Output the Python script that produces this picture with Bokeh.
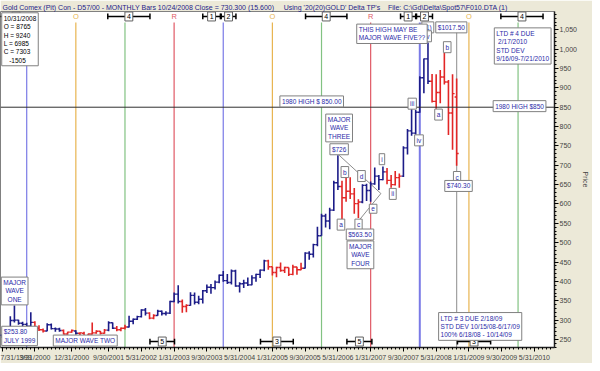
from bokeh.plotting import figure
from bokeh.models import Label, FixedTicker, SingleIntervalTicker, NumeralTickFormatter, Span
from bokeh.embed import file_html
from bokeh.resources import INLINE

# ---------------- data ----------------
first_month = "1999-07"
opens = [261.0, 255.6, 254.8, 299.0, 300.0, 292.0,
         289, 284, 294, 279, 275, 272, 288, 278, 277, 273, 264, 269,
         272, 266, 266, 258, 264, 267, 271, 266, 274, 293, 279, 275,
         279, 282, 297, 302, 309, 326, 318, 305, 312, 323, 317, 318,
         348, 367, 348, 335, 338, 364, 346, 354, 376, 385, 384, 398,
         416, 402, 397, 427, 388, 394, 396, 391, 409, 418, 429, 453,
         438, 423, 436, 428, 436, 418, 437, 430, 434, 473, 470, 495,
         518, 569, 556, 584, 655, 645, 616, 633, 626, 601, 605, 648,
         635, 652, 672, 663, 683, 661, 650, 668, 672, 745, 789, 783,
         837, 926, 975, 917, 865, 888, 928, 915, 835, 876.5]
highs = [262.5, 259.5, 310.0, 338.0, 301.0, 296.0,
         293, 320, 297, 287, 278, 292, 291, 281, 280, 276, 270, 276,
         274, 268, 270, 265, 294, 274, 272, 277, 297, 294, 285, 281,
         288, 311, 304, 311, 328, 331, 320, 315, 327, 325, 323, 350,
         371, 390, 353, 341, 372, 371, 363, 378, 392, 393, 402, 418,
         427, 419, 431, 430, 398, 404, 410, 416, 420, 431, 456, 456,
         438, 438, 449, 438, 436, 443, 438, 448, 475, 478, 497, 541,
         575, 575, 590, 660, 726, 660, 678, 669, 641, 612, 651, 652,
         658, 694, 675, 697, 693, 675, 685, 679, 749, 794, 849, 843,
         930, 976, 1017.5, 936, 935, 946, 990, 920, 935, 924]
lows = [253.8, 252.0, 253.5, 294.0, 288.0, 280.0,
        280, 283, 276, 272, 268, 271, 276, 270, 270, 263, 262, 267,
        263, 255, 255, 255, 263, 265, 263, 265, 271, 277, 271, 271,
        276, 281, 289, 300, 307, 312, 302, 302, 311, 312, 312, 316,
        346, 343, 319, 320, 337, 340, 341, 343, 370, 368, 379, 395,
        399, 393, 392, 386, 371, 383, 388, 390, 399, 409, 426, 430,
        415, 411, 425, 422, 414, 416, 417, 429, 433, 456, 462, 491,
        518, 539, 535, 582, 636, 556, 606, 613, 575, 563.5, 602, 608,
        606, 650, 636, 661, 651, 642, 648, 642, 670, 728, 776, 779,
        836, 886, 910, 862, 846, 860, 909, 778, 740.3, 698.5]
closes = [255.6, 254.8, 299.0, 300.0, 292.0, 289.0,
          284, 294, 278, 275, 272, 288, 278, 277, 273, 264, 269, 273,
          266, 267, 258, 264, 267, 271, 266, 274, 293, 279, 275, 279,
          282, 297, 302, 309, 326, 318, 305, 312, 323, 317, 318, 348,
          367, 348, 335, 338, 364, 346, 354, 376, 385, 384, 398, 416,
          402, 397, 427, 388, 394, 396, 391, 409, 418, 429, 453, 438,
          423, 436, 428, 436, 418, 437, 430, 434, 473, 470, 495, 518,
          569, 556, 584, 655, 645, 616, 633, 626, 601, 605, 648, 635,
          652, 672, 663, 683, 661, 650, 668, 672, 745, 789, 783, 837,
          926, 975, 917, 865, 888, 928, 915, 835, 885, 730.3]
trend = ("UUUUUU"
         "UUDDDUUUUDDD"
         "UDDDDDDDUUDD"
         "DUUUUUDDUUUU"
         "UUDDUUUUUUUU"
         "UUUUUUUUUUUD"
         "DDDDDDDDUUUU"
         "UUUUUDDDDDUU"
         "UUUUDDDDUUUU"
         "UUUDDDDDDD")

tick_dates = ["7/31/1999", "3/31/2000", "12/31/2000", "9/30/2001", "5/31/2002",
              "1/31/2003", "9/30/2003", "5/31/2004", "1/31/2005", "9/30/2005",
              "5/31/2006", "1/31/2007", "9/30/2007", "5/31/2008", "1/31/2009",
              "9/30/2009", "5/31/2010"]

cycle_dates = ["2000-01", "2001-01", "2002-01", "2003-01", "2004-01", "2005-01",
               "2006-01", "2007-01", "2008-01", "2009-01", "2010-01"]
cycle_kind = ["blue", "orange", "green", "red", "blue", "orange", "green", "red",
              "blue", "orange", "green"]
current_bar = "2008-10"
high_1980 = 850.0

# ---------------- helpers ----------------
def month_index(s):
    y, m = s.split("-")
    return (int(y) - 1999) * 12 + int(m) - 1

def date_index(s):
    mo, d, y = s.split("/")
    return (int(y) - 1999) * 12 + int(mo) - 1

m0 = month_index(first_month)
xs = [m0 + i for i in range(len(opens))]

FONT = "Liberation Sans"
TXT = "#2a2aa8"
BLUE = "#1c1c88"
RED = "#e22626"
LINE_COL = {"blue": "#7a7ae6", "orange": "#e8b450", "green": "#82c282", "red": "#e05a66"}

p = figure(width=592, height=363, x_range=(5.6, 140.9), y_range=(229.2, 1097.3),
           y_axis_location="right", output_backend="svg", toolbar_location=None,
           min_border_left=0, min_border_right=0, min_border_top=0, min_border_bottom=0)
p.background_fill_color = "white"
p.border_fill_color = "#ece9d8"
p.outline_line_color = "#808080"
p.xgrid.visible = False
p.ygrid.visible = False

p.title.text = ("Gold Comex (Pit) Con - D57/00  - MONTHLY Bars  10/24/2008 Close = 730.300 (15.600)"
                + "\u00a0" * 5 + "Using '20(20)GOLD' Delta TP's" + "\u00a0" * 4
                + "File: C:\\Gd\\Delta\\Spot57\\F010.DTA (1)")
p.title.text_font = FONT
p.title.text_font_size = "7px"
p.title.text_font_style = "normal"
p.title.text_color = "#1c1c88"
p.title.standoff = 2
p.title.offset = 2

# x axis
p.xaxis.ticker = FixedTicker(ticks=[date_index(d) for d in tick_dates],
                             minor_ticks=list(range(0, 145)))
p.xaxis.major_label_overrides = {date_index(d): d for d in tick_dates}
p.xaxis.major_label_text_font = FONT
p.xaxis.major_label_text_font_size = "7px"
p.xaxis.major_label_standoff = 2
p.xaxis.major_tick_in = 0
p.xaxis.major_tick_out = 4
p.xaxis.minor_tick_in = 0
p.xaxis.minor_tick_out = 2
p.xaxis.axis_line_width = 1.5
p.xaxis.axis_line_color = "#202020"

# y axis
p.yaxis.ticker = SingleIntervalTicker(interval=50, num_minor_ticks=5)
p.yaxis.formatter = NumeralTickFormatter(format="0,0")
p.yaxis.major_label_text_font = FONT
p.yaxis.major_label_text_font_size = "7px"
p.yaxis.major_label_standoff = 1
p.yaxis.major_tick_in = 0
p.yaxis.major_tick_out = 4
p.yaxis.minor_tick_in = 0
p.yaxis.minor_tick_out = 2
p.yaxis.axis_line_width = 1.5
p.yaxis.axis_line_color = "#202020"
p.yaxis.axis_label = "Price"
p.yaxis.axis_label_text_font = FONT
p.yaxis.axis_label_text_font_size = "7px"
p.yaxis.axis_label_text_font_style = "normal"
p.yaxis.axis_label_standoff = 2

# ---------------- cycle lines ----------------
LINE_TOP = 1069
LINE_BOT = 229.2
cx = [month_index(d) for d in cycle_dates]
p.segment(x0=cx, y0=[LINE_BOT] * len(cx), x1=cx, y1=[LINE_TOP] * len(cx),
          line_color=[LINE_COL[k] for k in cycle_kind],
          line_width=[2 if d == "2008-01" else 1.2 for d in cycle_dates])
cb = month_index(current_bar)
p.segment(x0=[cb], y0=[LINE_BOT], x1=[cb], y1=[LINE_TOP], line_color="#a0a0a0", line_width=1.2)

p.add_layout(Span(location=high_1980, dimension="width", line_color="#303030", line_width=1))

# triangle trend lines (annotation geometry)
apex = (98.5, 627)
i_top = opens.index(655)  # May 2006 bar
i_c = lows.index(563.5)
p.segment(x0=[xs[i_top] + 0.3, xs[i_c]], y0=[highs[i_top], lows[i_c] - 8],
          x1=[apex[0], apex[0]], y1=[apex[1], apex[1]], line_color="#707070", line_width=0.8)

# ---------------- OHLC bars ----------------
cols = [BLUE if t == "U" else RED for t in trend]
p.segment(x0=xs, y0=lows, x1=xs, y1=highs, line_color=cols, line_width=1.6)
p.segment(x0=[x - 0.5 for x in xs], y0=opens, x1=xs, y1=opens, line_color=cols, line_width=1.4)
p.segment(x0=xs, y0=closes, x1=[x + 0.5 for x in xs], y1=closes, line_color=cols, line_width=1.4)

# ---------------- cycle markers ----------------
TOP_Y = 1084.5
BOT_Y = 244.6
CAP = 7.5
top_brackets = [(4.5, 14.3, "4"), (31.8, 42.1, "4"), (55.0, 59.3, "1"), (59.5, 63.1, "2"),
                (80.1, 90.2, "4"), (103.3, 107.0, "1"), (107.2, 111.1, "2"), (127.8, 138.1, "4")]
bot_brackets = [(42.1, 48.1, "5"), (69.1, 77.1, "3"), (90.2, 96.3, "5"), (117.2, 125.3, "3")]
top_letters = [("O", 24, "orange"), ("R", 48, "red"), ("O", 72, "orange"),
               ("R", 96, "red"), ("O", 120, "orange")]

def brackets(items, yy):
    x0 = [a for a, b, t in items]
    x1 = [b for a, b, t in items]
    p.segment(x0=x0, y0=[yy] * len(items), x1=x1, y1=[yy] * len(items), line_color="black", line_width=1.5)
    p.segment(x0=x0 + x1, y0=[yy - CAP] * (2 * len(items)), x1=x0 + x1,
              y1=[yy + CAP] * (2 * len(items)), line_color="black", line_width=1.5)
    for a, b, t in items:
        p.add_layout(Label(x=(a + b) / 2, y=yy, text=t, text_align="center", text_baseline="middle",
                           text_font=FONT, text_font_size="7px", text_color="black",
                           background_fill_color="white", border_line_color="#606060",
                           border_line_width=1, padding=2))

brackets(top_brackets, TOP_Y)
brackets(bot_brackets, BOT_Y)
for t, x, k in top_letters:
    p.add_layout(Label(x=x, y=TOP_Y, text=t, text_align="center", text_baseline="middle",
                       text_font=FONT, text_font_size="7.5px", text_color=LINE_COL[k]))

# ---------------- annotations ----------------
def boxed(x, y, text, align="center", baseline="middle", color=TXT, size="6.5px"):
    p.add_layout(Label(x=x, y=y, text=text, text_align=align, text_baseline=baseline,
                       text_color=color, text_font=FONT, text_font_size=size,
                       text_line_height=1.2,
                       background_fill_color="white", border_line_color="#808080",
                       border_line_width=1, padding=2))

boxed(5.9, 1094.0, "10/31/2008\nO = 8765\nH = 9240\nL = 6985\nC = 7303\n\u00a0\u00a0\u00a0-1505",
      align="left", baseline="top", color="black")
boxed(9.05, 375.2, "MAJOR\nWAVE\nONE")
boxed(5.9, 234.0, "$253.80\nJULY 1999", align="left", baseline="bottom")
boxed(26.3, 247.1, "MAJOR WAVE TWO")
boxed(88.3, 796.4, "MAJOR\nWAVE\nTHREE")
boxed(88.3, 741.4, "$726")
boxed(89.7, 682.5, "b")
boxed(88.75, 546.7, "a")
boxed(93.04, 546.7, "c")
boxed(93.76, 672.2, "d")
boxed(96.6, 587.7, "e")
boxed(98.76, 715.7, "i")
boxed(101.4, 626.0, "ii")
boxed(93.4, 521.1, "$563.50")
boxed(93.5, 468.6, "MAJOR\nWAVE\nFOUR")
boxed(81.6, 865.0, "1980 HIGH $ 850.00")
boxed(106.15, 859.2, "iii")
boxed(107.8, 764.4, "iv")
boxed(109.96, 1056.3, "(1)")
boxed(109.96, 1033.3, "v")
boxed(115.7, 1056.3, "$1017.50")
boxed(92.6, 1039.7, "THIS HIGH MAY BE\nMAJOR WAVE FIVE??", align="left")
boxed(114.7, 1005.1, "b")
boxed(112.58, 831.0, "a")
boxed(117.1, 669.7, "c")
boxed(117.46, 646.6, "$740.30")
boxed(126.2, 1055.0, "LTD # 4 DUE\n\u00a02/17/2010\nSTD DEV\n9/16/09-7/21/2010",
      align="left", baseline="top")
boxed(132.36, 852.8, "1980 HIGH $850")
boxed(112.6, 319.5, "LTD # 3 DUE 2/18/09\nSTD DEV 10/15/08-6/17/09\n100% 6/18/08 - 10/14/09",
      align="left", baseline="top")

open("out.html", "w").write(file_html(p, INLINE))
